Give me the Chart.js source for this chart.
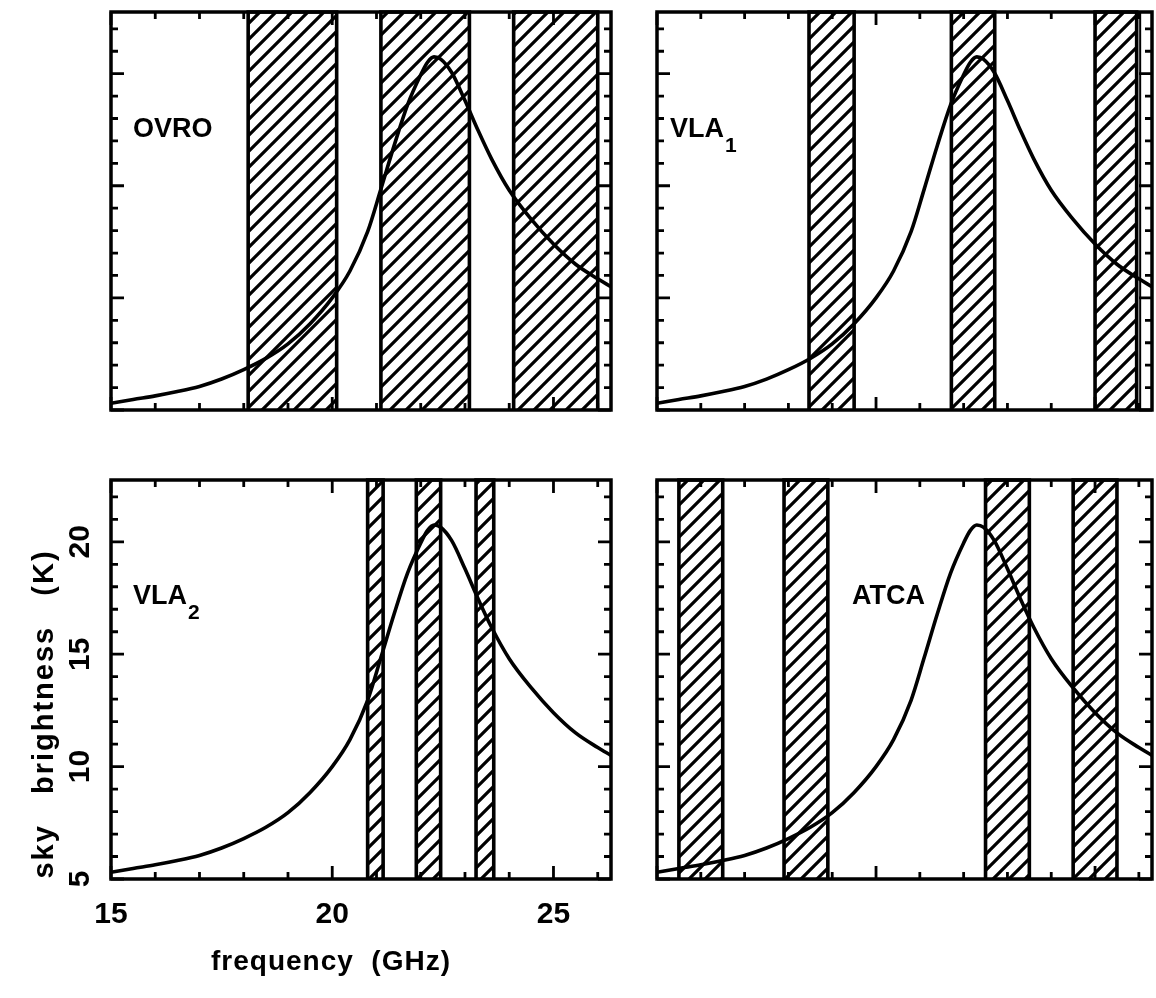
<!DOCTYPE html>
<html><head><meta charset="utf-8">
<script src="https://cdn.jsdelivr.net/npm/chart.js@4.4.0/dist/chart.umd.min.js"></script>
<style>
html,body{margin:0;padding:0;background:#fff;}
#wrap{position:relative;width:1156px;height:998px;overflow:hidden;background:#fff;}
canvas{position:absolute;left:0;top:0;}
</style></head><body>
<div id="wrap">
<canvas id="c0" width="1156" height="998"></canvas>
<canvas id="c1" width="1156" height="998"></canvas>
<canvas id="c2" width="1156" height="998"></canvas>
<canvas id="c3" width="1156" height="998"></canvas>
</div>
<script>
// ---- data ----
const freqGHz = [15.0,15.5,16.0,16.5,17.0,17.5,18.0,18.5,19.0,19.5,20.0,20.4,20.8,21.1,21.4,21.7,22.0,22.15,22.3,22.45,22.7,23.0,23.3,23.6,24.0,24.5,25.0,25.5,26.0,26.3];
const skyK    = [5.3,5.47,5.63,5.82,6.05,6.38,6.8,7.3,7.95,8.85,10.0,11.2,12.95,14.85,16.8,18.6,19.95,20.5,20.75,20.65,20.05,18.8,17.45,16.2,14.8,13.5,12.4,11.5,10.85,10.5];
const bandsOVRO = [[18.1,20.1],[21.1,23.1],[24.1,26.0]];
const bandsVLA1 = [[18.47,19.5],[21.72,22.71],[25.0,25.95]];
const bandsVLA2 = [[20.8,21.15],[21.9,22.45],[23.25,23.65]];
const bandsATCA = [[15.5,16.5],[17.9,18.9],[22.5,23.5],[24.5,25.5]];
const extraLinesVLA1 = [26.03];
const panelNames = ['OVRO','VLA','VLA','ATCA'];
const panelSubs  = ['','1','2',''];
const xTickLabels = ['15','20','25'];
const yTickLabels = ['5','10','15','20'];
const xTitle = 'frequency (GHz)';
const yTitle = 'sky brightness (K)';
const xMin = 15, xMax = 26.3, yMin = 5, yMax = 22.75;

// ---- layout ----
const panels = [
  {id:'c0', L:111, R:611, T:12,  B:410, bands:bandsOVRO, lines:[], name:0, lx:133, ly:130},
  {id:'c1', L:657, R:1152, T:12, B:410, bands:bandsVLA1, lines:extraLinesVLA1, name:1, lx:670, ly:130},
  {id:'c2', L:111, R:611, T:480, B:879, bands:bandsVLA2, lines:[], name:2, lx:133, ly:597, labels:true},
  {id:'c3', L:657, R:1152, T:480, B:879, bands:bandsATCA, lines:[], name:3, lx:852, ly:597}
];
const FONT = '"Liberation Sans", Arial, sans-serif';

function makeHatch(ctx){
  const s = 16;
  const c = document.createElement('canvas'); c.width = s; c.height = s;
  const g = c.getContext('2d');
  g.strokeStyle = '#000'; g.lineWidth = 3.2; g.lineCap = 'butt';
  g.beginPath();
  g.moveTo(-s, s); g.lineTo(s, -s);
  g.moveTo(0, 2*s); g.lineTo(2*s, 0);
  g.moveTo(-1, s+1); g.lineTo(s+1, -1);
  g.stroke();
  return ctx.createPattern(c, 'repeat');
}

const boxPlugin = {
  id: 'box',
  afterDatasetsDraw(chart, args, opts) {
    const {ctx, chartArea: a, scales: {x, y}} = chart;
    ctx.save();
    ctx.strokeStyle = '#000'; ctx.lineWidth = 3.5; ctx.lineCap = 'butt';
    ctx.strokeRect(a.left, a.top, a.right - a.left, a.bottom - a.top);
    ctx.lineWidth = 2.8;
    ctx.beginPath();
    for (let v = Math.ceil(xMin); v <= Math.floor(xMax); v++) {
      const px = x.getPixelForValue(v);
      const len = v % 5 === 0 ? 13 : 7;
      ctx.moveTo(px, a.bottom); ctx.lineTo(px, a.bottom - len);
      ctx.moveTo(px, a.top); ctx.lineTo(px, a.top + len);
    }
    for (let v = Math.ceil(yMin); v <= Math.floor(yMax); v++) {
      const py = y.getPixelForValue(v);
      const len = v % 5 === 0 ? 13 : 7;
      ctx.moveTo(a.left, py); ctx.lineTo(a.left + len, py);
      ctx.moveTo(a.right, py); ctx.lineTo(a.right - len, py);
    }
    ctx.stroke();
    // panel label
    const p = opts.panel;
    ctx.fillStyle = '#000';
    ctx.textBaseline = 'middle'; ctx.textAlign = 'left';
    ctx.font = 'bold 27px ' + FONT;
    const nm = panelNames[p.name];
    ctx.fillText(nm, p.lx, p.ly);
    const sub = panelSubs[p.name];
    if (sub) {
      const w = ctx.measureText(nm).width;
      ctx.font = 'bold 21px ' + FONT;
      ctx.fillText(sub, p.lx + w + 1, p.ly + 16);
    }
    if (p.labels) {
      ctx.font = 'bold 30px ' + FONT;
      ctx.textAlign = 'center'; ctx.textBaseline = 'middle';
      xTickLabels.forEach(t => {
        ctx.fillText(t, x.getPixelForValue(Number(t)), a.bottom + 36);
      });
      yTickLabels.forEach(t => {
        ctx.save();
        ctx.translate(a.left - 30, y.getPixelForValue(Number(t)));
        ctx.rotate(-Math.PI / 2);
        ctx.fillText(t, 0, 0);
        ctx.restore();
      });
      ctx.font = 'bold 28px ' + FONT;
      ctx.letterSpacing = '1px';
      ctx.fillText(xTitle.replace(' ', '  '), 331, 962);
      ctx.font = 'bold 29px ' + FONT;
      ctx.letterSpacing = '2px';
      ctx.save();
      ctx.translate(45, 714);
      ctx.rotate(-Math.PI / 2);
      ctx.fillText(yTitle.replace(/ /g, '   '), 0, 0);
      ctx.restore();
    }
    ctx.restore();
  }
};

panels.forEach(p => {
  const cv = document.getElementById(p.id);
  const ctx = cv.getContext('2d');
  const hatch = makeHatch(ctx);
  const datasets = [{
    data: freqGHz.map((f, i) => ({x: f, y: skyK[i]})),
    borderColor: '#000', borderWidth: 3.6, pointRadius: 0,
    tension: 0.4, cubicInterpolationMode: 'monotone', fill: false, order: 0
  }];
  p.bands.forEach(b => datasets.push({
    data: [{x: b[0], y: yMin}, {x: b[0], y: yMax}, {x: b[1], y: yMax}, {x: b[1], y: yMin}],
    borderColor: '#000', borderWidth: 3.6, pointRadius: 0, tension: 0,
    backgroundColor: hatch, fill: 'start', order: 1, clip: false
  }));
  p.lines.forEach(v => datasets.push({
    data: [{x: v, y: yMin}, {x: v, y: yMax}],
    borderColor: '#000', borderWidth: 2, pointRadius: 0, fill: false, order: 1, clip: false
  }));
  new Chart(ctx, {
    type: 'line',
    data: {datasets},
    options: {
      responsive: false, animation: false, devicePixelRatio: 1,
      layout: {padding: {left: p.L, right: 1156 - p.R, top: p.T, bottom: 998 - p.B}},
      scales: {
        x: {type: 'linear', min: xMin, max: xMax, display: false},
        y: {type: 'linear', min: yMin, max: yMax, display: false}
      },
      plugins: {legend: {display: false}, tooltip: {enabled: false}, box: {panel: p}},
      events: []
    },
    plugins: [boxPlugin]
  });
});
</script>
</body></html>
